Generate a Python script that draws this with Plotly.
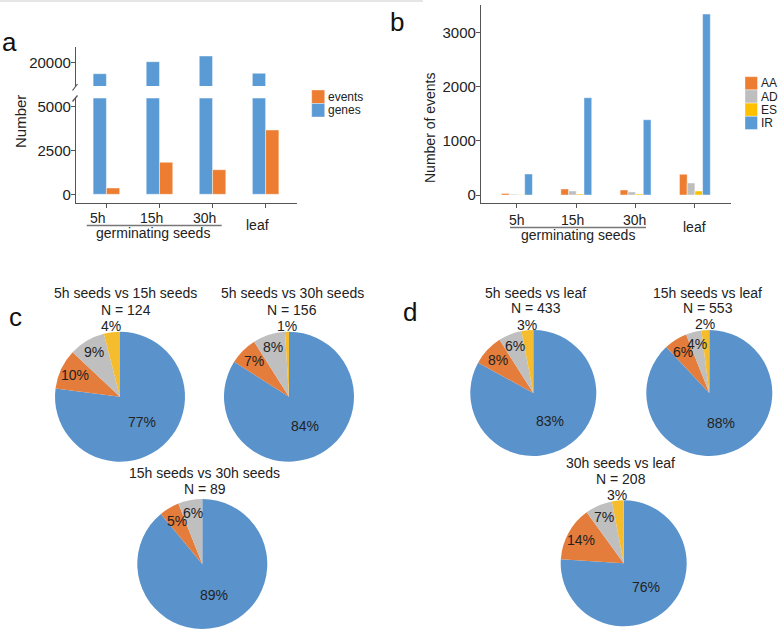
import math
import plotly.graph_objects as go

# ---------------- data ----------------
stages = ["5h", "15h", "30h", "leaf"]
genes = [14300, 20300, 23150, 14500]
events = [360, 1826, 1404, 3670]

event_types = ["AA", "AD", "ES", "IR"]
AA = [30, 111, 92, 382]
AD = [13, 74, 55, 221]
ES = [4, 18, 18, 74]
IR = [387, 1795, 1389, 3339]

pie_order = ["IR", "AA", "AD", "ES"]
c_titles = ["5h seeds vs 15h seeds", "5h seeds vs 30h seeds", "15h seeds vs 30h seeds"]
c_N = [124, 156, 89]
c_pct = [[77, 10, 9, 4], [84, 7, 8, 1], [89, 5, 6, 0]]
d_titles = ["5h seeds vs leaf", "15h seeds vs leaf", "30h seeds vs leaf"]
d_N = [433, 553, 208]
d_pct = [[83, 8, 6, 3], [88, 6, 4, 2], [76, 14, 7, 3]]

# ---------------- style ----------------
W, H = 778, 632
FONT = "Liberation Sans, Arial, sans-serif"
TXT = "#222222"
AXC = "#555555"
bar_col = {"genes": "#5B9BD5", "events": "#ED7D31",
           "AA": "#ED7D31", "AD": "#BEBEBE", "ES": "#FFC000", "IR": "#5B9BD5"}
pie_col = {"IR": "#5A93CB", "AA": "#E47C3B", "AD": "#BFBFBF", "ES": "#F5BD2E"}
lab_r = {"IR": 0.51, "AA": 0.77, "AD": 0.80, "ES": 1.09}


def X(px):
    return px / W


def Y(py):
    return 1 - py / H


annotations = []


def note(x, y, text, size=14, xanchor="center", color=TXT, **kw):
    d = dict(x=x, y=y, xref=kw.pop("xref", "paper"), yref=kw.pop("yref", "paper"),
             xanchor=xanchor, yanchor="middle", showarrow=False, text=text,
             font=dict(size=size, color=color, family=FONT))
    d.update(kw)
    annotations.append(d)


fig = go.Figure()
edge = dict(color="rgba(255,255,255,0.55)", width=0.8)

# ---------------- panel a ----------------
for ya in ["y", "y2"]:
    fig.add_trace(go.Bar(x=stages, y=genes, name="genes", width=0.25, offset=-0.25,
                         marker=dict(color=bar_col["genes"], line=edge),
                         xaxis="x", yaxis=ya, showlegend=False))
    fig.add_trace(go.Bar(x=stages, y=events, name="events", width=0.25, offset=0.0,
                         marker=dict(color=bar_col["events"], line=edge),
                         xaxis="x", yaxis=ya, showlegend=False))

# ---------------- panel b ----------------
b_series = {"AA": AA, "AD": AD, "ES": ES, "IR": IR}
bw = 0.13
for i, t in enumerate(event_types):
    fig.add_trace(go.Bar(x=stages, y=b_series[t], name=t, width=bw, offset=-2 * bw + i * bw,
                         marker=dict(color=bar_col[t], line=edge),
                         xaxis="x2", yaxis="y3", showlegend=False))

# ---------------- pies ----------------
pie_geo = [(120, 396.7, 65), (289, 396.7, 65), (202.3, 564, 65),
           (533.3, 393, 63), (709.3, 393, 63), (623.7, 563.3, 63)]
title_pos = [(126, 293, 310), (292, 293, 310), (204.7, 473, 489),
             (535.5, 293, 308), (707.5, 293, 308), (620.7, 463, 479)]
all_titles = c_titles + d_titles
all_N = c_N + d_N
all_pct = c_pct + d_pct

for k, (cx, cy, r) in enumerate(pie_geo):
    vals = all_pct[k]
    dom = dict(x=[X(cx - r), X(cx + r)], y=[Y(cy + r), Y(cy - r)])
    fig.add_trace(go.Pie(values=vals, labels=pie_order, sort=False, direction="clockwise",
                         rotation=0, textinfo="none", showlegend=False,
                         marker=dict(colors=[pie_col[t] for t in pie_order], line=dict(width=0)),
                         domain=dom))
    # percentage labels at the mid-angle of each slice
    tot = sum(vals)
    cum = 0
    for t, v in zip(pie_order, vals):
        if v > 0:
            ang = math.radians((cum + v / 2) / tot * 360)
            lx = cx + lab_r[t] * r * math.sin(ang)
            ly = cy - lab_r[t] * r * math.cos(ang)
            note(X(lx), Y(ly), f"{v}%", size=14)
        cum += v
    tx0, ty1, ty2 = title_pos[k]
    note(X(tx0), Y(ty1), all_titles[k], size=14)
    note(X(tx0), Y(ty2), f"N = {all_N[k]}", size=14)

# ---------------- axis labels / annotations ----------------
shapes = []
# x labels panel a
for s in stages:
    note(s, Y(225 if s == "leaf" else 218.5), s, size=14, xref="x", xshift=-8)
note(X(152.7), Y(233), "germinating seeds", size=14)
shapes.append(dict(type="line", xref="paper", yref="paper", x0=X(86.7), x1=X(221.7),
                   y0=Y(225.5), y1=Y(225.5), line=dict(color="#777777", width=1.5)))
# x labels panel b
b_shift = {"5h": 0, "15h": -4, "30h": -1, "leaf": 0}
for s in stages:
    note(s, Y(226.7 if s == "leaf" else 220), s, size=14, xref="x2", xshift=b_shift[s])
note(X(578.3), Y(235), "germinating seeds", size=14)
shapes.append(dict(type="line", xref="paper", yref="paper", x0=X(510), x1=X(646),
                   y0=Y(227.5), y1=Y(227.5), line=dict(color="#777777", width=1.5)))

# y titles
note(X(20), Y(122), "Number", size=15, textangle=-90)
note(X(430), Y(128), "Number of events", size=14, textangle=-90)

# panel letters
for letter, (lx, ly) in zip("abcd", [(9, 42), (397, 22), (16, 317), (410, 312)]):
    note(X(lx), Y(ly), letter, size=26, color="#111111")


# custom legends
def add_legend(names, x0, y0, step, size=13):
    for i, n in enumerate(names):
        shapes.append(dict(type="rect", xref="paper", yref="paper",
                           x0=X(x0), x1=X(x0 + size), y0=Y(y0 + i * step), y1=Y(y0 + i * step + step),
                           fillcolor=bar_col[n], line=dict(width=0.6, color="rgba(255,255,255,0.6)")))
        note(X(x0 + size + 1), Y(y0 + i * step + step / 2), n, size=12, xanchor="left")


add_legend(["events", "genes"], 311.7, 90, 13.5)
add_legend(event_types, 745, 76.7, 13.2, size=12.5)

# axis break marks (panel a)
shapes.append(dict(type="line", xref="paper", yref="paper", x0=X(72.5), x1=X(77.5),
                   y0=Y(90.5), y1=Y(84), line=dict(color=AXC, width=1.2)))
shapes.append(dict(type="line", xref="paper", yref="paper", x0=X(72.5), x1=X(77.5),
                   y0=Y(101.5), y1=Y(95.5), line=dict(color=AXC, width=1.2)))
# faint top border
shapes.append(dict(type="line", xref="paper", yref="paper", x0=0, x1=X(423),
                   y0=Y(1), y1=Y(1), line=dict(color="#E6E6E6", width=2)))

ax_common = dict(showline=True, linecolor=AXC, linewidth=1.3, ticks="outside", ticklen=4,
                 tickcolor=AXC, tickwidth=1.2, showgrid=False, zeroline=False,
                 tickfont=dict(size=15, color=TXT, family=FONT), tickformat="d")
ylab = dict(ticklabelstandoff=-3)

fig.update_layout(
    width=W, height=H, margin=dict(l=0, r=0, t=0, b=0),
    paper_bgcolor="white", plot_bgcolor="rgba(0,0,0,0)",
    font=dict(family=FONT, color=TXT),
    barmode="overlay", showlegend=False,
    xaxis=dict(domain=[X(76), X(296.7)], range=[-0.573, 3.586], type="category",
               anchor="y", showticklabels=False, **ax_common),
    yaxis=dict(domain=[Y(203.3), Y(98.3)], range=[-514, 5479], tickvals=[0, 2500, 5000],
               anchor="x", **ax_common, **ylab),
    yaxis2=dict(domain=[Y(86), Y(47.3)], range=[8150, 27500], tickvals=[20000],
                anchor="x", **ax_common, **ylab),
    xaxis2=dict(domain=[X(481), X(730.7)], range=[-0.607, 3.604], type="category",
                anchor="y3", showticklabels=False, **ax_common),
    yaxis3=dict(domain=[Y(203.3), Y(5)], range=[-153, 3506], tickvals=[0, 1000, 2000, 3000],
                anchor="x2", **ax_common, **ylab),
    annotations=annotations, shapes=shapes,
)

fig.write_html("out.html", config={"displayModeBar": False},
               post_script="document.body.style.margin='0';")
